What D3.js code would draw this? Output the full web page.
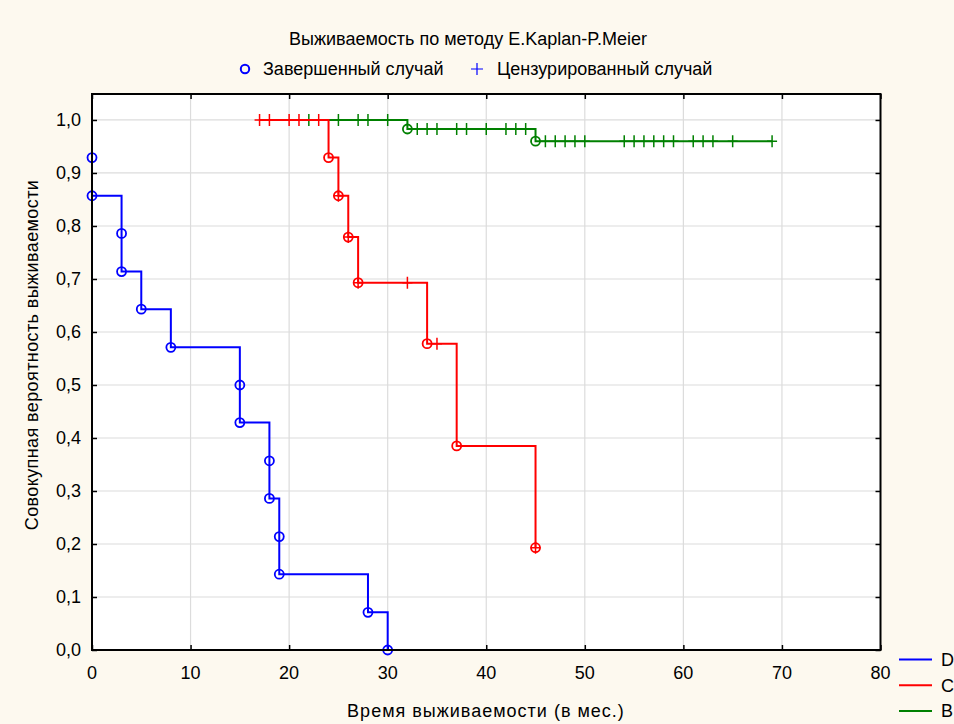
<!DOCTYPE html>
<html><head><meta charset="utf-8">
<script src="https://cdn.jsdelivr.net/npm/d3@7/dist/d3.min.js"></script>
<style>
html,body{margin:0;padding:0;background:#fdf9ef;}
svg{display:block;font-family:"Liberation Sans",Arial,sans-serif;}
</style></head>
<body><svg id="c" width="954" height="724"></svg>
<script>
const xTicks = [0,10,20,30,40,50,60,70,80];
const yTicks = [0,0.1,0.2,0.3,0.4,0.5,0.6,0.7,0.8,0.9,1.0];
const yTickLabels = ["0,0","0,1","0,2","0,3","0,4","0,5","0,6","0,7","0,8","0,9","1,0"];
const seriesNames = ["D","C","B"];
const seriesColors = ["#0000ff","#ff0000","#008000"];

// step curves (level from t[i] until t[i+1])
const dCurveT = [0,3,5,8,15,18,19,28,30];
const dCurveS = [0.857,0.714,0.643,0.571,0.429,0.286,0.143,0.071,0.0];
const dEventT = [0,0,3,3,5,8,15,15,18,18,19,19,28,30];
const dEventS = [0.929,0.857,0.786,0.714,0.643,0.571,0.5,0.429,0.357,0.286,0.214,0.143,0.071,0.0];
const dCensT = [];
const dCensS = [];

const cCurveT = [17,24,25,26,27,34,37,45];
const cCurveS = [1,0.929,0.857,0.779,0.693,0.578,0.385,0.193];
const cEventT = [24,25,26,27,34,37,45];
const cEventS = [0.929,0.857,0.779,0.693,0.578,0.385,0.193];
const cCensT = [17,18,20,21,23,25,26,27,32,35,45];
const cCensS = [1,1,1,1,1,0.857,0.779,0.693,0.693,0.578,0.193];

const bCurveT = [22,32,45,69];
const bCurveS = [1,0.983,0.96,0.96];
const bEventT = [32,45];
const bEventS = [0.983,0.96];
const bCensT = [22,25,27,28,30,33,34,35,37,38,40,42,43,44,46,47,48,49,50,54,55,56,57,58,59,61,62,63,65,69];
const bCensS = [1,1,1,1,1,0.983,0.983,0.983,0.983,0.983,0.983,0.983,0.983,0.983,0.96,0.96,0.96,0.96,0.96,0.96,0.96,0.96,0.96,0.96,0.96,0.96,0.96,0.96,0.96,0.96];

const series = [
  {curveT:bCurveT,curveS:bCurveS,eventT:bEventT,eventS:bEventS,censT:bCensT,censS:bCensS,color:seriesColors[2]},
  {curveT:cCurveT,curveS:cCurveS,eventT:cEventT,eventS:cEventS,censT:cCensT,censS:cCensS,color:seriesColors[1]},
  {curveT:dCurveT,curveS:dCurveS,eventT:dEventT,eventS:dEventS,censT:dCensT,censS:dCensS,color:seriesColors[0]}
];

const svg = d3.select("#c");
const L=92, R=880.5, T=94, B=650;
const x = d3.scaleLinear().domain([0,80]).range([L,R]);
const y = d3.scaleLinear().domain([0,1.049]).range([B,T]);

svg.append("rect").attr("x",L).attr("y",T).attr("width",R-L).attr("height",B-T).attr("fill","#fff");

// grid
svg.append("g").selectAll("line").data(xTicks.slice(1,-1)).join("line")
  .attr("x1",d=>x(d)).attr("x2",d=>x(d)).attr("y1",T).attr("y2",B)
  .attr("stroke","#dcdcdc").attr("stroke-width",1.2);
svg.append("g").selectAll("line").data(yTicks.slice(1)).join("line")
  .attr("x1",L).attr("x2",R).attr("y1",d=>y(d)).attr("y2",d=>y(d))
  .attr("stroke","#dcdcdc").attr("stroke-width",1.2);

// axes
const fmt = d=>yTickLabels[Math.round(d*10)];
const gy = svg.append("g").attr("transform",`translate(${L},0)`)
  .call(d3.axisRight(y).tickValues(yTicks).tickSize(5).tickFormat(""));
gy.select(".domain").remove();
gy.selectAll("line").attr("stroke","#000").attr("stroke-width",1.5);
svg.append("g").selectAll("text").data(yTicks).join("text")
  .attr("x",L-11).attr("y",d=>y(d)).attr("dy","0.36em").attr("text-anchor","end")
  .attr("font-size",18).attr("fill","#000").text(fmt);

const gx = svg.append("g").attr("transform",`translate(0,${B})`)
  .call(d3.axisTop(x).tickValues(xTicks).tickSize(5).tickFormat(""));
gx.select(".domain").remove();
gx.selectAll("line").attr("stroke","#000").attr("stroke-width",1.5);
svg.append("g").selectAll("text").data(xTicks).join("text")
  .attr("x",d=>x(d)).attr("y",B+29).attr("text-anchor","middle")
  .attr("font-size",18).attr("fill","#000").text(d=>d);

// mirrored ticks top/right
const gt = svg.append("g").attr("transform",`translate(0,${T})`)
  .call(d3.axisBottom(x).tickValues(xTicks).tickSize(5).tickFormat(""));
gt.select(".domain").remove();
gt.selectAll("line").attr("stroke","#000").attr("stroke-width",1.5);
const gr = svg.append("g").attr("transform",`translate(${R},0)`)
  .call(d3.axisLeft(y).tickValues(yTicks).tickSize(5).tickFormat(""));
gr.select(".domain").remove();
gr.selectAll("line").attr("stroke","#000").attr("stroke-width",1.5);

// series
const line = d3.line().x(d=>x(d[0])).y(d=>y(d[1])).curve(d3.curveStepAfter);
series.forEach(s=>{
  const g = svg.append("g");
  const pts = s.curveT.map((t,i)=>[t,s.curveS[i]]);
  g.append("path").attr("d",line(pts)).attr("fill","none").attr("stroke",s.color).attr("stroke-width",2);
  const cens = s.censT.map((t,i)=>[t,s.censS[i]]);
  g.selectAll("path.c").data(cens).join("path").attr("class","c")
    .attr("d",d=>`M${x(d[0])-5},${y(d[1])}h10M${x(d[0])},${y(d[1])-6}v12`)
    .attr("stroke",s.color).attr("stroke-width",1.5).attr("fill","none");
  const ev = s.eventT.map((t,i)=>[t,s.eventS[i]]);
  g.selectAll("circle").data(ev).join("circle")
    .attr("cx",d=>x(d[0])).attr("cy",d=>y(d[1])).attr("r",4.5)
    .attr("fill","none").attr("stroke",s.color).attr("stroke-width",1.8);
});

// frame
svg.append("rect").attr("x",L).attr("y",T).attr("width",R-L).attr("height",B-T)
  .attr("fill","none").attr("stroke","#000").attr("stroke-width",2);

// title & legend
svg.append("text").attr("x",468).attr("y",45).attr("text-anchor","middle")
  .attr("font-size",18).attr("fill","#000").text("Выживаемость по методу E.Kaplan-P.Meier");
svg.append("circle").attr("cx",245).attr("cy",69).attr("r",4.2).attr("fill","none")
  .attr("stroke","#0000ff").attr("stroke-width",2);
svg.append("text").attr("x",263).attr("y",75).attr("font-size",18).attr("fill","#000").text("Завершенный случай");
svg.append("path").attr("d","M471,69h12M477,63v12").attr("stroke","#0000ff").attr("stroke-width",1.2);
svg.append("text").attr("x",497).attr("y",75).attr("font-size",18).attr("fill","#000").text("Цензурированный случай");

// axis titles
svg.append("text").attr("x",486).attr("y",717).attr("text-anchor","middle")
  .attr("font-size",18).attr("letter-spacing",1).attr("fill","#000").text("Время выживаемости (в мес.)");
svg.append("text").attr("transform",`translate(38,355) rotate(-90)`).attr("text-anchor","middle")
  .attr("font-size",18).attr("letter-spacing",0.4).attr("fill","#000").text("Совокупная вероятность выживаемости");

// series legend (bottom right)
const lg = svg.append("g");
seriesNames.forEach((n,i)=>{
  const yy = 659.5 + i*25.7;
  lg.append("line").attr("x1",899).attr("x2",932).attr("y1",yy).attr("y2",yy)
    .attr("stroke",seriesColors[i]).attr("stroke-width",2);
  lg.append("text").attr("x",941).attr("y",yy).attr("dy","0.36em").attr("font-size",18)
    .attr("fill","#000").text(n);
});
</script></body></html>
